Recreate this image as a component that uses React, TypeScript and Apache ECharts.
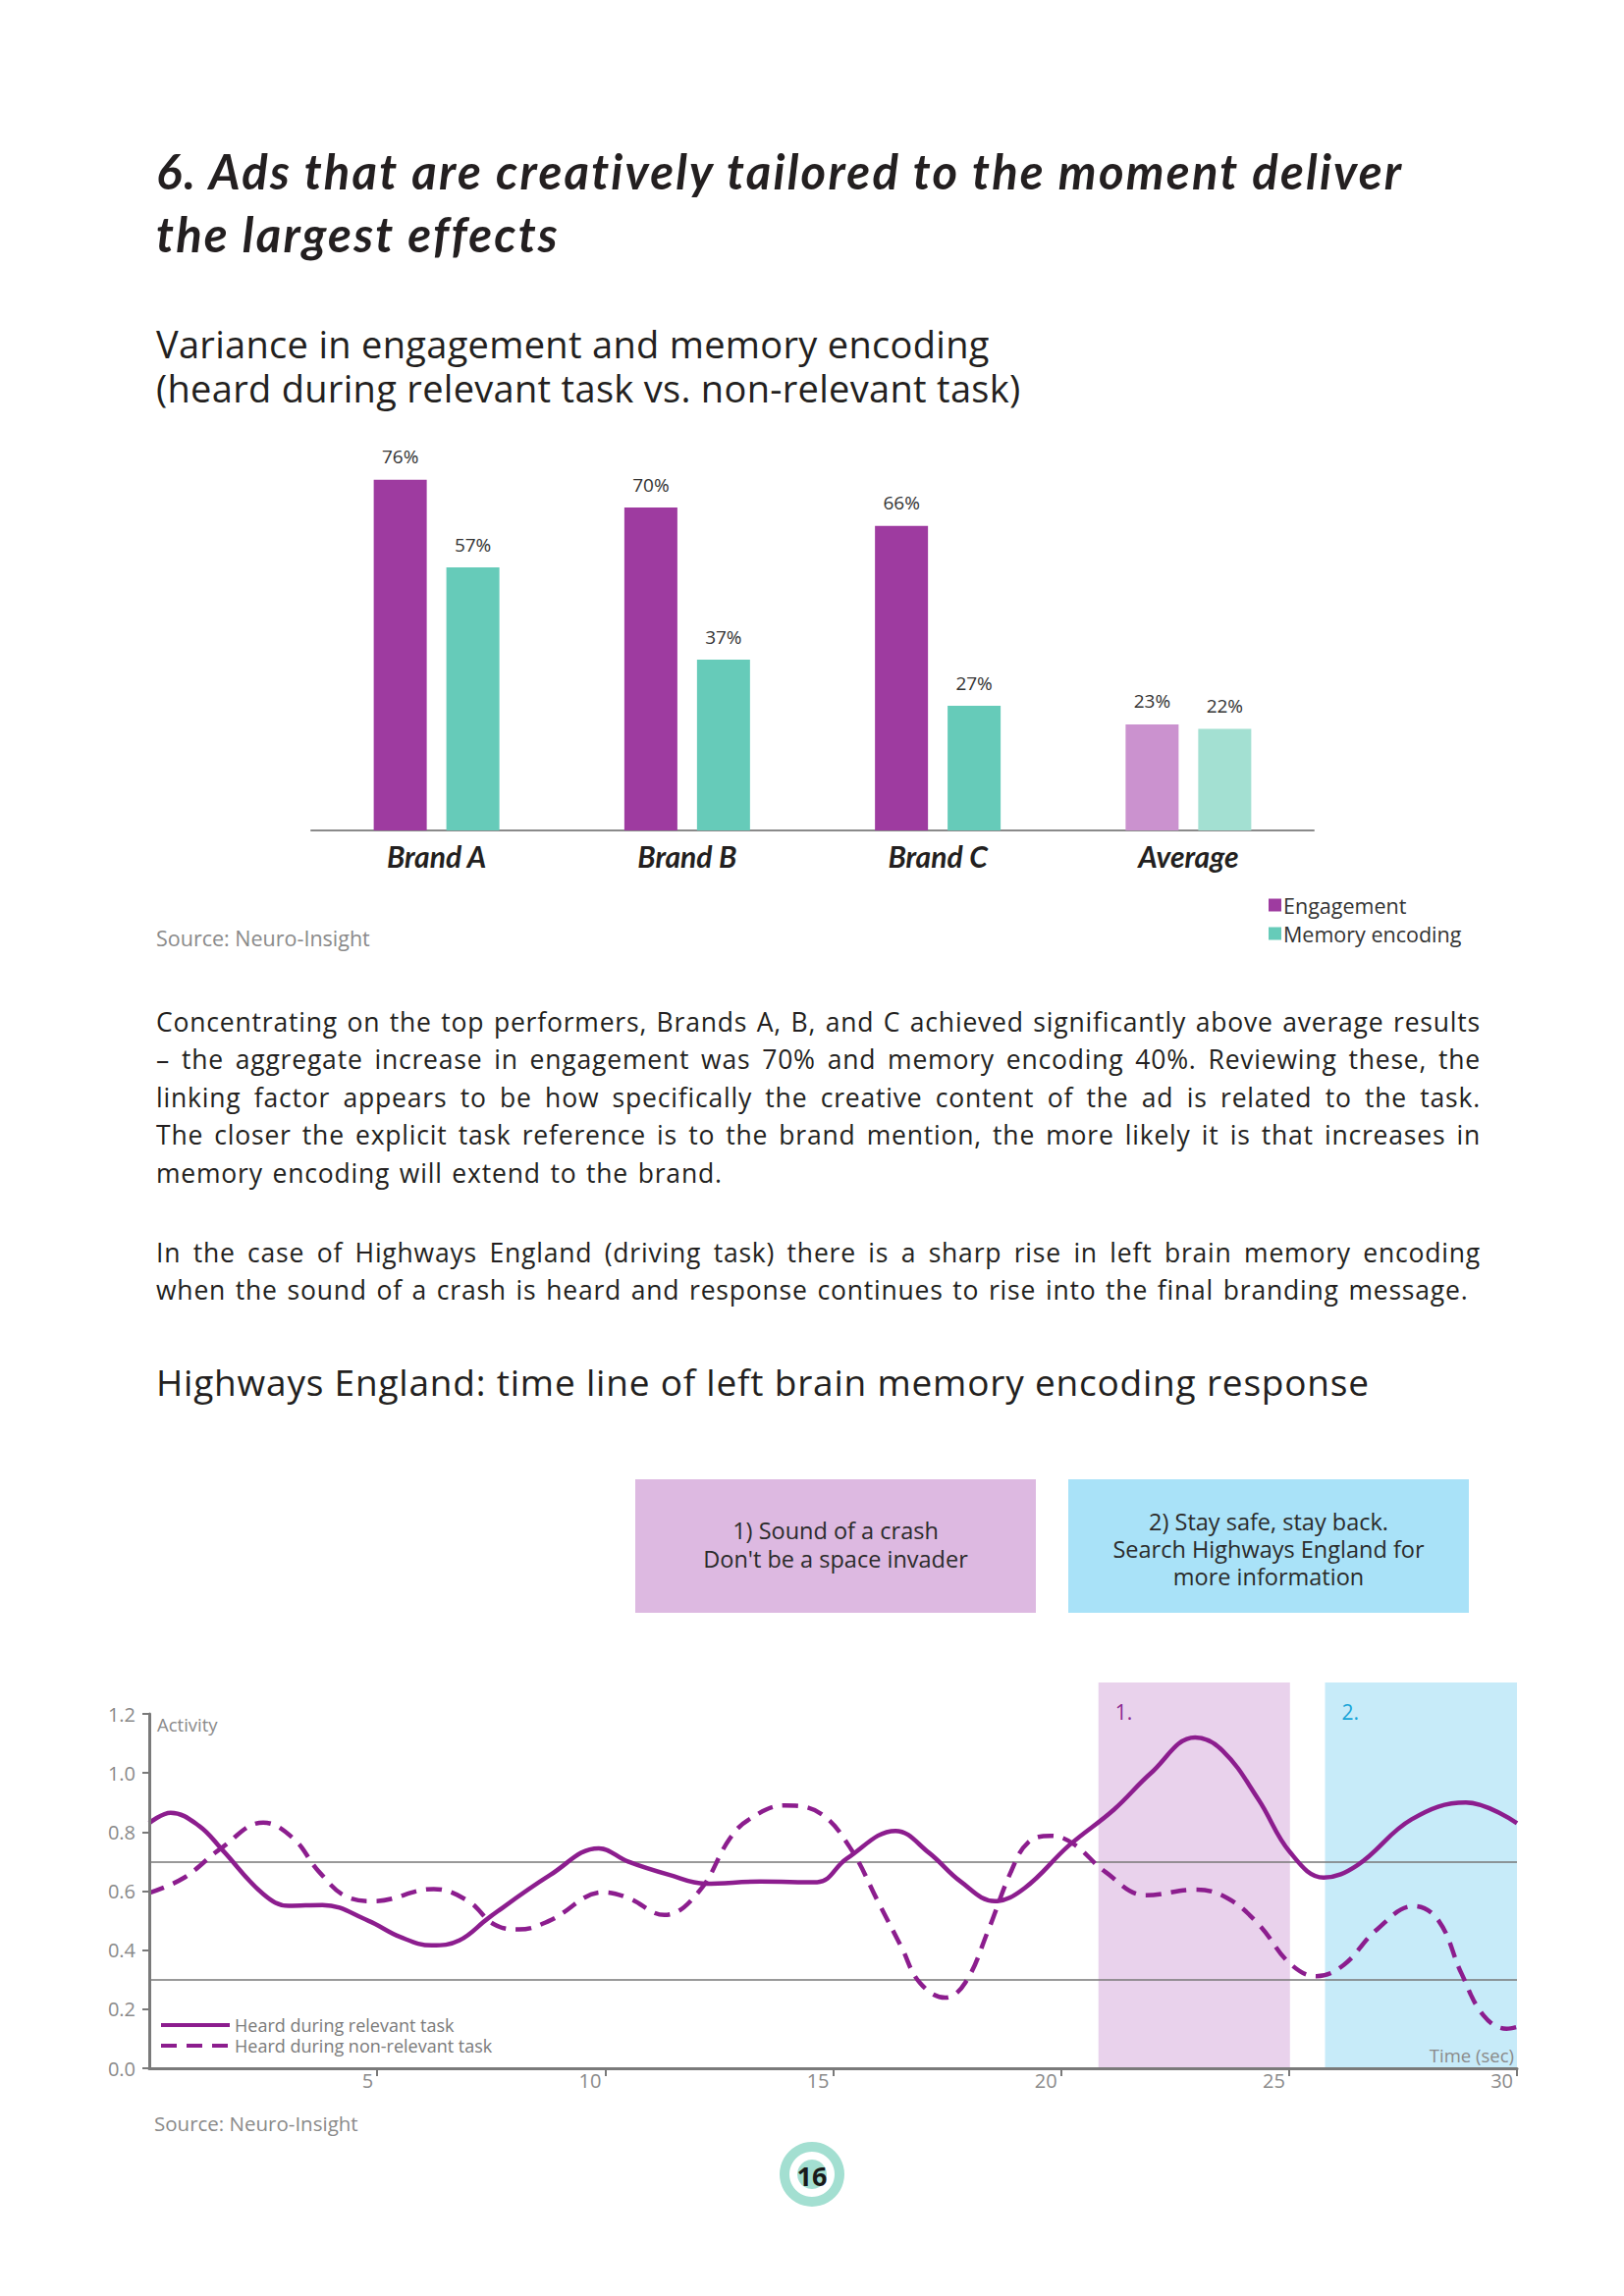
import React, { useEffect, useRef } from "react";
import * as echarts from "echarts";

// ---------- DATA ----------
const barCategories = ["Brand A", "Brand B", "Brand C", "Average"];
const engagementValues = [76, 70, 66, 23];
const memoryValues = [57, 37, 27, 22];

const timeRelevant: number[][] = [
  [0, 0.83], [0.47, 0.865], [1.1, 0.82], [1.6, 0.74], [2.5, 0.59], [3.06, 0.55], [3.8, 0.553],
  [4.8, 0.5], [5.5, 0.445], [6.2, 0.416], [6.8, 0.433], [7.45, 0.51], [8.8, 0.655], [9.86, 0.745],
  [10.5, 0.7], [11.4, 0.655], [12.2, 0.625], [13.4, 0.632], [14.65, 0.63], [15.3, 0.71],
  [16.37, 0.804], [17.1, 0.73], [17.8, 0.632], [18.55, 0.566], [19.2, 0.61], [20.17, 0.754],
  [21.16, 0.876], [21.96, 0.998], [22.94, 1.12], [23.54, 1.076], [24.33, 0.91], [25.02, 0.732],
  [25.76, 0.646], [26.5, 0.688], [27.69, 0.843], [28.88, 0.9], [30, 0.83],
];

const timeNonRelevant: number[][] = [
  [0, 0.594], [0.75, 0.644], [1.57, 0.744], [2.5, 0.832], [3.17, 0.777], [3.72, 0.666],
  [4.37, 0.578], [4.92, 0.566], [6.24, 0.607], [7.0, 0.566], [7.56, 0.488], [8.11, 0.47],
  [8.77, 0.499], [9.97, 0.596], [10.5, 0.577], [11.3, 0.519], [12.06, 0.599], [12.73, 0.777],
  [13.16, 0.843], [13.93, 0.89], [14.7, 0.865], [15.36, 0.75], [16.0, 0.56], [16.5, 0.41],
  [16.9, 0.29], [17.46, 0.239], [17.9, 0.29], [18.4, 0.466], [18.9, 0.665], [19.28, 0.765],
  [19.77, 0.787], [20.27, 0.76], [20.97, 0.665], [21.86, 0.586], [22.94, 0.605], [23.64, 0.577],
  [24.33, 0.488], [25.02, 0.355], [25.6, 0.312], [26.2, 0.35], [26.9, 0.466], [27.74, 0.549],
  [28.28, 0.5], [28.78, 0.322], [29.27, 0.178], [29.77, 0.134], [30, 0.14],
];

const referenceLevels = [0.7, 0.3];
const segmentNames = ["1.", "2."];
const segmentStarts = [20.82, 25.79];
const segmentEnds = [25.02, 30];

// ---------- STYLE ----------
const SANS = "'Open Sans', sans-serif";
const HEAD = "Lato, sans-serif";
const INK = "#231F20";
const PURPLE = "#9E3BA0";
const TEAL = "#66CBB9";
const PURPLE_LIGHT = "#CB92CF";
const TEAL_LIGHT = "#A3E0D2";
const LINE = "#8C1D8E";
const AXIS = "#7a7a7a";
const segmentFills = ["#E9D2EC", "#C7EBF9"];
const segmentLabelColors = ["#8C2A90", "#1AA5D8"];

function TextLine(props: {
  text: string; baseline: number; size: number; family?: string; weight?: number | string;
  italic?: boolean; color?: string; justify?: boolean; left?: number; width?: number;
  spacing?: number; wordSpacing?: number; lineHeight?: number;
}) {
  const { text, baseline, size, family = SANS, weight = 400, italic = false, color = INK,
    justify = false, left = 159, width = 1349, spacing = 0, wordSpacing = 0 } = props;
  const lh = props.lineHeight ?? Math.round(size * 1.12);
  const top = baseline - lh / 2 - 0.387 * size;
  return (
    <div
      style={{
        position: "absolute", left, top, width, lineHeight: lh + "px",
        fontSize: size, fontFamily: family, fontWeight: weight as any, letterSpacing: spacing,
        wordSpacing, fontStyle: italic ? "italic" : "normal", color, whiteSpace: "pre",
        textAlign: justify ? "justify" : "left", textAlignLast: justify ? "justify" : "auto",
        pointerEvents: "none", margin: 0,
      } as React.CSSProperties}
    >
      {text}
    </div>
  );
}

export default function App() {
  const ref = useRef<HTMLDivElement>(null);

  useEffect(() => {
    if (!ref.current) return;
    const chart = echarts.init(ref.current, undefined, { renderer: "svg" });

    const option: any = {
      animation: false,
      textStyle: { fontFamily: SANS },
      grid: [
        { left: 317, top: 470, width: 1021, height: 376 },
        { left: 152, top: 1714, width: 1393, height: 393 },
        { left: 152, top: 1746, width: 1393, height: 361 },
      ],
      xAxis: [
        {
          gridIndex: 0, type: "category", data: barCategories,
          axisLine: { lineStyle: { color: "#8a8a8a", width: 2 } },
          axisTick: { show: false },
          axisLabel: {
            fontFamily: HEAD, fontStyle: "italic", fontWeight: "bold", fontSize: 30,
            color: INK, margin: 11,
          },
        },
        { gridIndex: 1, type: "value", min: 0, max: 30, show: false },
        {
          gridIndex: 2, type: "value", min: 0, max: 30, interval: 5, z: 6,
          axisLine: { show: true, onZero: false, lineStyle: { color: AXIS, width: 3 } },
          axisTick: { show: true, length: 8, lineStyle: { color: AXIS, width: 2 } },
          axisLabel: {
            showMinLabel: false, align: "right", color: "#8a8a8a", fontSize: 20,
            margin: 2, padding: [0, 4, 0, 0],
          },
          splitLine: { show: false },
        },
      ],
      yAxis: [
        { gridIndex: 0, type: "value", min: 0, max: 80, show: false },
        { gridIndex: 1, type: "value", min: 0, max: 1, show: false },
        {
          gridIndex: 2, type: "value", min: 0, max: 1.2, interval: 0.2, z: 6,
          axisLine: { show: true, lineStyle: { color: AXIS, width: 3 } },
          axisTick: { show: true, length: 7, lineStyle: { color: AXIS, width: 2 } },
          axisLabel: {
            formatter: (v: number) => v.toFixed(1), color: "#8a8a8a", fontSize: 20, margin: 14,
          },
          splitLine: { show: false },
        },
      ],
      legend: [
        {
          data: ["Engagement", "Memory encoding"], orient: "vertical", left: 1292, top: 911,
          icon: "rect", itemWidth: 13, itemHeight: 13, itemGap: 7, padding: 0,
          textStyle: { fontSize: 21.5, color: "#333", fontFamily: SANS, padding: [0, 0, 0, -3] },
        },
        {
          data: ["Heard during relevant task", "Heard during non-relevant task"],
          orient: "vertical", left: 162, top: 2054, itemWidth: 70, itemHeight: 12, itemGap: 3,
          padding: 0,
          itemStyle: { opacity: 0 },
          lineStyle: { width: 4 },
          textStyle: { fontSize: 18, color: "#7a7a7a", fontFamily: SANS },
        },
      ],
      series: [
        {
          name: "Engagement", type: "bar", xAxisIndex: 0, yAxisIndex: 0,
          barWidth: 54, barGap: "37%",
          itemStyle: { color: PURPLE },
          data: engagementValues.map((v, i) =>
            i === engagementValues.length - 1 ? { value: v, itemStyle: { color: PURPLE_LIGHT } } : v),
          label: {
            show: true, position: "top", distance: 14, formatter: "{c}%",
            fontSize: 19, color: "#333", fontFamily: SANS,
          },
        },
        {
          name: "Memory encoding", type: "bar", xAxisIndex: 0, yAxisIndex: 0,
          barWidth: 54, barGap: "37%",
          itemStyle: { color: TEAL },
          data: memoryValues.map((v, i) =>
            i === memoryValues.length - 1 ? { value: v, itemStyle: { color: TEAL_LIGHT } } : v),
          label: {
            show: true, position: "top", distance: 14, formatter: "{c}%",
            fontSize: 19, color: "#333", fontFamily: SANS,
          },
        },
        {
          name: "segments", type: "line", xAxisIndex: 1, yAxisIndex: 1, data: [], z: 1,
          symbol: "none", silent: true,
          markArea: {
            silent: true, z: 1,
            data: segmentNames.map((n, i) => [
              {
                name: n, xAxis: segmentStarts[i], yAxis: 0,
                itemStyle: { color: segmentFills[i] },
                label: {
                  show: true, position: [17, 19], color: segmentLabelColors[i],
                  fontSize: 21, fontFamily: SANS,
                },
              },
              { xAxis: segmentEnds[i], yAxis: 1 },
            ]),
          },
        },
        {
          name: "Heard during relevant task", type: "line", xAxisIndex: 2, yAxisIndex: 2,
          data: timeRelevant, smooth: 0.4, symbol: "none", z: 5,
          lineStyle: { color: LINE, width: 4.5 }, itemStyle: { color: LINE },
          markLine: {
            silent: true, symbol: "none", z: 3, label: { show: false },
            lineStyle: { color: "#777", width: 1.5, type: "solid" },
            data: referenceLevels.map((v) => ({ yAxis: v })),
          },
        },
        {
          name: "Heard during non-relevant task", type: "line", xAxisIndex: 2, yAxisIndex: 2,
          data: timeNonRelevant, smooth: 0.4, symbol: "none", z: 5,
          lineStyle: { color: LINE, width: 4.5, type: [16, 10] }, itemStyle: { color: LINE },
        },
      ],
      graphic: [
        { type: "text", left: 159, top: 944, style: { text: "Source: Neuro-Insight", fontSize: 21.5, fill: "#8a8a8a", fontFamily: SANS } },
        { type: "rect", shape: { x: 647, y: 1507, width: 408, height: 136 }, style: { fill: "#DDB9E1" } },
        { type: "rect", shape: { x: 1088, y: 1507, width: 408, height: 136 }, style: { fill: "#A9E2F8" } },
        {
          type: "text", x: 851, y: 1573,
          style: {
            text: "1) Sound of a crash\nDon't be a space invader", fontSize: 23.5, lineHeight: 29,
            fill: "#2b2b2b", fontFamily: SANS, align: "center", verticalAlign: "middle",
          },
        },
        {
          type: "text", x: 1292, y: 1578,
          style: {
            text: "2) Stay safe, stay back.\nSearch Highways England for\nmore information", fontSize: 23.5,
            lineHeight: 28, fill: "#2b2b2b", fontFamily: SANS, align: "center", verticalAlign: "middle",
          },
        },
        {
          type: "text", x: 160, y: 1756,
          style: { text: "Activity", fontSize: 18.5, fill: "#8a8a8a", fontFamily: SANS, align: "left", verticalAlign: "middle" },
        },
        {
          type: "text", x: 1542, y: 2093, z: 10,
          style: { text: "Time (sec)", fontSize: 18.5, fill: "#8a8a8a", fontFamily: SANS, align: "right", verticalAlign: "middle" },
        },
        { type: "text", left: 157, top: 2152, style: { text: "Source: Neuro-Insight", fontSize: 20.5, fill: "#8a8a8a", fontFamily: SANS } },
        { type: "ring", shape: { cx: 827, cy: 2215, r: 33, r0: 23 }, style: { fill: "#A3DFD1" } },
        { type: "circle", shape: { cx: 827, cy: 2215, r: 15 }, style: { fill: "#A3DFD1" } },
        {
          type: "text", x: 827, y: 2216,
          style: { text: "16", fontSize: 27, fontWeight: "bold", fill: "#1a1a1a", fontFamily: SANS, align: "center", verticalAlign: "middle" },
        },
      ],
    };

    chart.setOption(option);
    return () => chart.dispose();
  }, []);

  const para1 = [
    "Concentrating on the top performers, Brands A, B, and C achieved significantly above average results",
    "– the aggregate increase in engagement was 70% and memory encoding 40%. Reviewing these, the",
    "linking factor appears to be how specifically the creative content of the ad is related to the task.",
    "The closer the explicit task reference is to the brand mention, the more likely it is that increases in",
    "memory encoding will extend to the brand.",
  ];
  const para2 = [
    "In the case of Highways England (driving task) there is a sharp rise in left brain memory encoding",
    "when the sound of a crash is heard and response continues to rise into the final branding message.",
  ];

  return (
    <div style={{ position: "absolute", left: 0, top: 0, width: 1654, height: 2339, background: "#fff" }}>
      <div ref={ref} style={{ position: "absolute", left: 0, top: 0, width: 1654, height: 2339 }} />
      <TextLine
        text={"6. Ads that are creatively tailored to the moment deliver\nthe largest effects"}
        baseline={193} size={49} lineHeight={64} family={HEAD} weight={700} italic spacing={2.2}
      />
      <TextLine
        text={"Variance in engagement and memory encoding\n(heard during relevant task vs. non-relevant task)"}
        baseline={365} size={38} lineHeight={45} spacing={0.3}
      />
      {para1.map((t, i) => (
        <TextLine key={"p1" + i} text={t} baseline={1051 + 38.5 * i} size={26.5} spacing={0.8}
          wordSpacing={i < para1.length - 1 ? 0 : 2} justify={i < para1.length - 1} />
      ))}
      {para2.map((t, i) => (
        <TextLine key={"p2" + i} text={t} baseline={1286 + 38.5 * i} size={26.5} spacing={0.8}
          wordSpacing={i < para2.length - 1 ? 0 : 2} justify={i < para2.length - 1} />
      ))}
      <TextLine text="Highways England: time line of left brain memory encoding response" baseline={1422} size={37} spacing={0.8} />
    </div>
  );
}
